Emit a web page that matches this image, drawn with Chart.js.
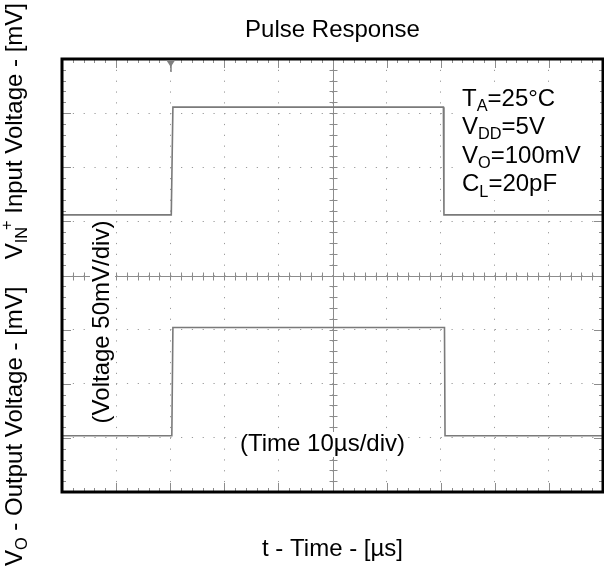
<!DOCTYPE html>
<html lang="en">
<head>
<meta charset="UTF-8">
<title>Pulse Response</title>
<script src="https://cdn.jsdelivr.net/npm/chart.js"></script>
<style>
  body { margin: 0; background: #fff; }
  #wrap { width: 604px; height: 571px; }
</style>
</head>
<body>
<div id="wrap"><canvas id="pulse" width="604" height="571"></canvas></div>
<script>
// time in µs (10 µs/div), level in divisions from the bottom (50 mV/div)
const inputTime   = [0, 20.2, 20.5, 70.5, 70.6, 100];
const inputLevel  = [5.12, 5.12, 7.11, 7.11, 5.12, 5.12];
const outputTime  = [0, 20.3, 20.5, 70.7, 70.8, 100];
const outputLevel = [1.04, 1.04, 3.04, 3.04, 1.04, 1.04];
const xTicks = [0, 10, 20, 30, 40, 50, 60, 70, 80, 90, 100];
const yTicks = [0, 1, 2, 3, 4, 5, 6, 7, 8];
const triggerTime = 20.1;

const FONT = '"Liberation Sans", Arial, sans-serif';
const SIZE = 24;

function setFont(ctx, px) { ctx.font = px + 'px ' + FONT; }

// parts: [text, role]  role: '' | 'sub' | 'sup'
function partsWidth(ctx, parts, size) {
    let w = 0;
    for (const [t, role] of parts) {
        setFont(ctx, role ? size * 0.68 : size);
        w += ctx.measureText(t).width - (role === 'sup' ? 3 : 0);
    }
    return w;
}

function drawParts(ctx, parts, x, y, size) {
    let cur = x;
    for (const [t, role] of parts) {
        setFont(ctx, role ? size * 0.68 : size);
        const w = ctx.measureText(t).width;
        let dy = 0, px = cur;
        if (role === 'sub') dy = size * 0.22;
        if (role === 'sup') { dy = -size * 0.42; px = cur - 3; }
        ctx.fillText(t, px, y + dy);
        cur = px + w;
    }
    return cur;
}

function seg(ctx, x1, y1, x2, y2) {
    ctx.beginPath();
    ctx.moveTo(x1, y1);
    ctx.lineTo(x2, y2);
    ctx.stroke();
}

const snap = v => Math.round(v) + 0.5;

const scopePlugin = {
    id: 'scope',
    beforeDatasetsDraw(chart) {
        const { ctx, chartArea: a, scales: { x, y } } = chart;
        ctx.save();
        ctx.strokeStyle = '#8c8c8c';
        ctx.lineWidth = 1;
        const cx = snap(x.getPixelForValue(50));
        const cy = snap(y.getPixelForValue(4));
        seg(ctx, a.left, cy, a.right, cy);
        seg(ctx, cx, a.top, cx, a.bottom);
        // minor ticks, 5 per division
        for (let k = 0; k <= 50; k++) {
            const px = snap(x.getPixelForValue(k * 2));
            const major = k % 5 === 0;
            seg(ctx, px, cy - 4, px, cy + 4);
            seg(ctx, px, a.top, px, a.top + (major ? 9 : 4));
            seg(ctx, px, a.bottom, px, a.bottom - (major ? 9 : 4));
        }
        for (let k = 0; k <= 40; k++) {
            const py = snap(y.getPixelForValue(k * 0.2));
            const major = k % 5 === 0;
            seg(ctx, cx - 4, py, cx + 4, py);
            seg(ctx, a.left, py, a.left + (major ? 9 : 4), py);
            seg(ctx, a.right, py, a.right - (major ? 9 : 4), py);
        }
        ctx.restore();
    },
    afterDatasetsDraw(chart) {
        const { ctx, chartArea: a, scales: { x } } = chart;
        ctx.save();
        // frame
        ctx.strokeStyle = '#000';
        ctx.lineWidth = 3;
        ctx.strokeRect(a.left, a.top, a.right - a.left, a.bottom - a.top);

        // trigger marker
        const tx = x.getPixelForValue(triggerTime);
        ctx.fillStyle = '#808080';
        ctx.beginPath();
        ctx.moveTo(tx - 4.5, a.top + 1);
        ctx.lineTo(tx + 4.5, a.top + 1);
        ctx.lineTo(tx, a.top + 8);
        ctx.closePath();
        ctx.fill();
        ctx.fillRect(tx - 0.5, a.top + 6, 1.5, 7);

        ctx.fillStyle = '#000';
        ctx.textBaseline = 'alphabetic';
        ctx.textAlign = 'left';
        const mid = (a.left + a.right) / 2;

        // title and x title
        setFont(ctx, SIZE);
        ctx.textAlign = 'center';
        ctx.fillText('Pulse Response', mid, 37);
        ctx.fillText('t - Time - [µs]', mid, 556);
        ctx.textAlign = 'left';

        // y title (rotated)
        const lower = [['V', ''], ['O', 'sub'], [' - Output Voltage - [mV]', '']];
        const upper = [['V', ''], ['IN', 'sub'], ['+', 'sup'], [' Input Voltage - [mV]', '']];
        ctx.save();
        ctx.translate(22, 566);
        ctx.rotate(-Math.PI / 2);
        drawParts(ctx, lower, 0, 0, SIZE);
        const uw = partsWidth(ctx, upper, SIZE);
        drawParts(ctx, upper, 563 - uw, 0, SIZE);
        ctx.restore();

        // (Voltage 50mV/div)
        const vParts = [['(Voltage 50mV/div)', '']];
        ctx.save();
        ctx.translate(109, 322);
        ctx.rotate(-Math.PI / 2);
        const vw = partsWidth(ctx, vParts, SIZE);
        ctx.fillStyle = '#fff';
        ctx.fillRect(-vw / 2 - 3, -19, vw + 6, 25);
        ctx.fillStyle = '#000';
        drawParts(ctx, vParts, -vw / 2, 0, SIZE);
        ctx.restore();

        // (Time 10µs/div)
        const tParts = [['(Time 10µs/div)', '']];
        const tw = partsWidth(ctx, tParts, SIZE);
        ctx.fillStyle = '#fff';
        ctx.fillRect(240 - 3, 451 - 19, tw + 6, 25);
        ctx.fillStyle = '#000';
        drawParts(ctx, tParts, 240, 451, SIZE);

        // conditions block
        const cond = [
            [['T', ''], ['A', 'sub'], ['=25°C', '']],
            [['V', ''], ['DD', 'sub'], ['=5V', '']],
            [['V', ''], ['O', 'sub'], ['=100mV', '']],
            [['C', ''], ['L', 'sub'], ['=20pF', '']]
        ];
        ctx.fillStyle = '#fff';
        ctx.fillRect(456, 82, 144, 118);
        ctx.fillStyle = '#000';
        cond.forEach((p, i) => drawParts(ctx, p, 462, 105.5 + i * 28.6, SIZE));
        ctx.restore();
    }
};

const toPoints = (ts, vs) => ts.map((t, i) => ({ x: t, y: vs[i] }));

const traceStyle = {
    borderColor: '#7a7a7a',
    borderWidth: 1.6,
    pointRadius: 0,
    tension: 0,
    fill: false
};

new Chart(document.getElementById('pulse'), {
    type: 'line',
    data: {
        datasets: [
            Object.assign({ label: 'Input', data: toPoints(inputTime, inputLevel) }, traceStyle),
            Object.assign({ label: 'Output', data: toPoints(outputTime, outputLevel) }, traceStyle)
        ]
    },
    options: {
        responsive: false,
        animation: false,
        layout: { padding: { left: 62, top: 59, right: 1, bottom: 79 } },
        plugins: {
            legend: { display: false },
            tooltip: { enabled: false },
            title: { display: false }
        },
        scales: {
            x: {
                type: 'linear',
                min: 0,
                max: 100,
                afterBuildTicks: s => { s.ticks = xTicks.map(v => ({ value: v })); },
                ticks: { display: false },
                grid: { color: '#9a9a9a', lineWidth: 1, drawTicks: false },
                border: { display: false, dash: [1.2, 9.62] }
            },
            y: {
                type: 'linear',
                min: 0,
                max: 8,
                afterBuildTicks: s => { s.ticks = yTicks.map(v => ({ value: v })); },
                ticks: { display: false },
                grid: { color: '#9a9a9a', lineWidth: 1, drawTicks: false },
                border: { display: false, dash: [1.2, 9.62] }
            }
        }
    },
    plugins: [scopePlugin]
});
</script>
</body>
</html>
